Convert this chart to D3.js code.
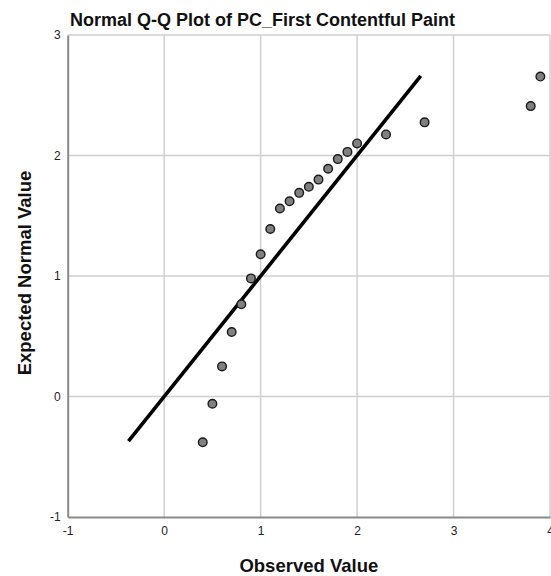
<!DOCTYPE html>
<html>
<head>
<meta charset="utf-8">
<script src="https://cdn.jsdelivr.net/npm/d3@7"></script>
<style>
  html, body { margin: 0; padding: 0; background: #fff; }
  svg { display: block; font-family: "Liberation Sans", Arial, sans-serif; }
</style>
</head>
<body>
<svg id="chart" width="551" height="576"></svg>
<script>
// ---- data ----
const observed = [0.4, 0.5, 0.6, 0.7, 0.8, 0.9, 1.0, 1.1, 1.2, 1.3, 1.4, 1.5, 1.6, 1.7, 1.8, 1.9, 2.0, 2.3, 2.7, 3.8, 3.9];
const expected = [-0.38, -0.06, 0.25, 0.535, 0.765, 0.98, 1.18, 1.39, 1.56, 1.62, 1.69, 1.74, 1.80, 1.89, 1.97, 2.03, 2.10, 2.175, 2.275, 2.41, 2.655];
const refLine = [-0.37, 2.66];        // y = x reference line range
const xTicks = [-1, 0, 1, 2, 3, 4];
const yTicks = [-1, 0, 1, 2, 3];
const titleText = "Normal Q-Q Plot of PC_First Contentful Paint";
const xTitle = "Observed Value";
const yTitle = "Expected Normal Value";

// ---- layout ----
const svg = d3.select("#chart");
const pLeft = 67.7, pRight = 550, pTop = 35, pBottom = 517;

const x = d3.scaleLinear().domain([-1, 4]).range([pLeft, pRight]);
const y = d3.scaleLinear().domain([-1, 3]).range([pBottom, pTop]);

// grid lines
const grid = svg.append("g");
grid.selectAll("line.v").data(xTicks.slice(1)).join("line")
  .attr("x1", d => x(d)).attr("x2", d => x(d))
  .attr("y1", pTop).attr("y2", pBottom)
  .attr("stroke", "#cfcfcf").attr("stroke-width", 1.5);
grid.selectAll("line.h").data(yTicks.slice(1)).join("line")
  .attr("x1", pLeft).attr("x2", pRight)
  .attr("y1", d => y(d)).attr("y2", d => y(d))
  .attr("stroke", "#cfcfcf").attr("stroke-width", 1.5);

// axes
const fmt = d => String(d);
const xAxis = d3.axisBottom(x).tickValues(xTicks).tickSize(0).tickPadding(9).tickFormat(fmt);
const yAxis = d3.axisLeft(y).tickValues(yTicks).tickSize(0).tickPadding(7).tickFormat(fmt);

const gx = svg.append("g").attr("transform", `translate(0,${pBottom})`).call(xAxis);
const gy = svg.append("g").attr("transform", `translate(${pLeft},0)`).call(yAxis);
[gx, gy].forEach(g => {
  g.select(".domain").attr("stroke", "#8a8a8a").attr("stroke-width", 2);
  g.selectAll("text").attr("font-size", 12).attr("fill", "#222")
    .attr("font-family", "'Liberation Sans', Arial, sans-serif");
});

// reference line y = x
svg.append("line")
  .attr("x1", x(refLine[0])).attr("y1", y(refLine[0]))
  .attr("x2", x(refLine[1])).attr("y2", y(refLine[1]))
  .attr("stroke", "#000").attr("stroke-width", 3.6);

// points
svg.append("g").selectAll("circle")
  .data(observed.map((o, i) => [o, expected[i]]))
  .join("circle")
  .attr("cx", d => x(d[0])).attr("cy", d => y(d[1]))
  .attr("r", 4.3)
  .attr("fill", "#808080").attr("stroke", "#1a1a1a").attr("stroke-width", 1.4);

// titles
svg.append("text").attr("x", 70).attr("y", 26)
  .attr("font-size", 18).attr("font-weight", "bold").attr("fill", "#111")
  .text(titleText);
svg.append("text").attr("x", x(1.5)).attr("y", 572)
  .attr("text-anchor", "middle")
  .attr("font-size", 18.5).attr("font-weight", "bold").attr("fill", "#111")
  .text(xTitle);
svg.append("text")
  .attr("transform", `translate(31,273) rotate(-90)`)
  .attr("text-anchor", "middle")
  .attr("font-size", 18.5).attr("font-weight", "bold").attr("fill", "#111")
  .text(yTitle);
</script>
</body>
</html>
